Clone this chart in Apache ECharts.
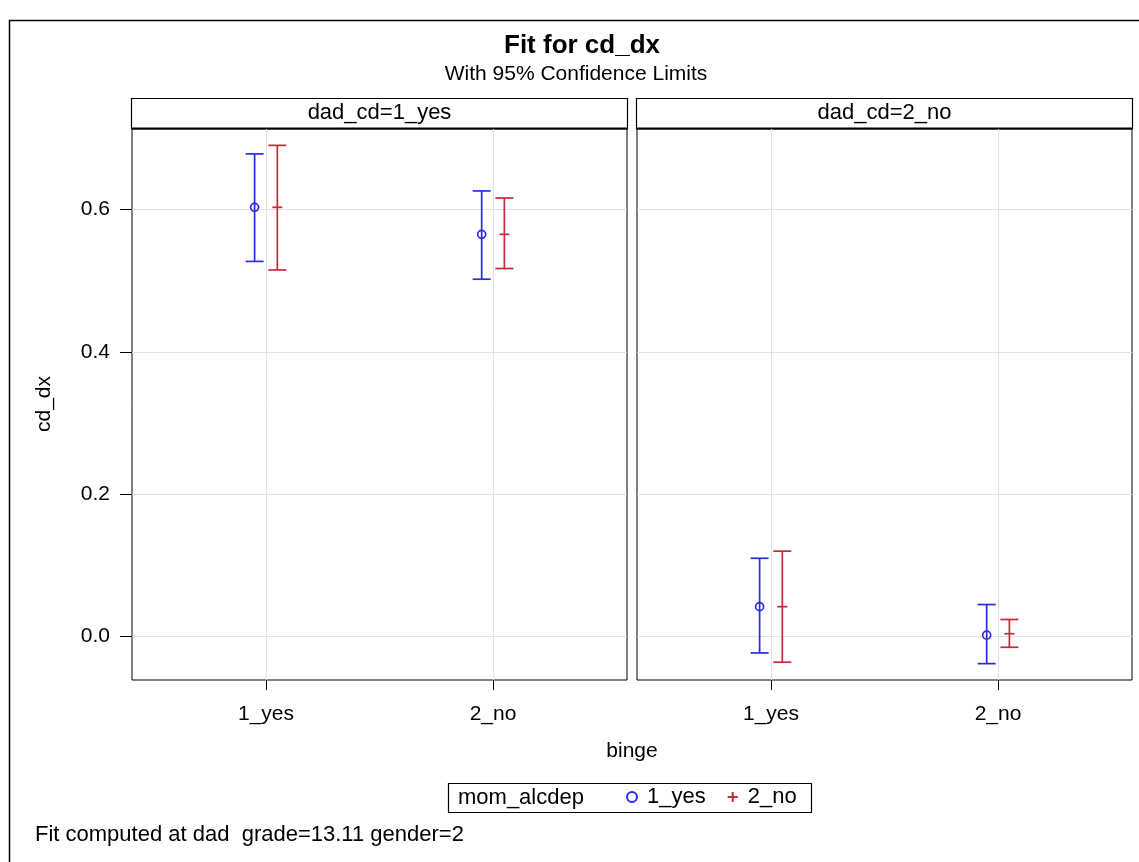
<!DOCTYPE html>
<html>
<head>
<meta charset="utf-8">
<title>Fit for cd_dx</title>
<script src="https://cdn.jsdelivr.net/npm/echarts@6/dist/echarts.min.js"></script>
<style>
  html, body { margin: 0; padding: 0; background: #fff; }
  #chart { width: 1139px; height: 862px; }
</style>
</head>
<body>
<div id="chart"></div>
<script>
// binge levels on the x axis of each panel
const categories = ['1_yes', '2_no'];
// panel headers (dad_cd levels)
const panels = ['dad_cd=1_yes', 'dad_cd=2_no'];
// mom_alcdep groups
const groups = ['1_yes', '2_no'];
const yTicks = [0, 0.2, 0.4, 0.6];

// fitted cd_dx with 95% limits, indexed [panel][binge]
const yesEst   = [[0.603, 0.565], [0.042, 0.002]];
const yesLower = [[0.527, 0.502], [-0.023, -0.038]];
const yesUpper = [[0.678, 0.626], [0.110, 0.045]];
const noEst    = [[0.603, 0.565], [0.042, 0.004]];
const noLower  = [[0.515, 0.517], [-0.036, -0.015]];
const noUpper  = [[0.690, 0.616], [0.120, 0.024]];

const FONT = 'Liberation Sans, Arial, sans-serif';
const BLUE = '#2b2be6';
const RED = '#c32a3a';
const GRIDLINE = '#e2e2e2';

const panelLeft = [132, 637];
const panelTop = 129;
const panelW = 495;
const panelH = 551;

const chart = echarts.init(document.getElementById('chart'), null, { renderer: 'canvas' });

const grids = panelLeft.map(l => ({
  left: l, top: panelTop, width: panelW, height: panelH,
  show: true, borderColor: '#000', borderWidth: 1, backgroundColor: '#fff'
}));

const xAxes = panelLeft.map((l, i) => ({
  type: 'value', gridIndex: i, min: 0.41, max: 2.59,
  axisLine: { show: false, onZero: false },
  axisTick: { show: true, customValues: [1, 2], length: 10, lineStyle: { color: '#000', width: 1 } },
  axisLabel: {
    customValues: [1, 2], margin: 24, color: '#000', fontSize: 21, fontFamily: FONT,
    formatter: v => categories[Math.round(v) - 1]
  },
  splitLine: { show: true, lineStyle: { color: GRIDLINE, width: 1 } }
}));

const yAxes = panelLeft.map((l, i) => ({
  type: 'value', gridIndex: i, min: -0.061, max: 0.713,
  axisLine: { show: false, onZero: false },
  axisTick: { show: i === 0, customValues: yTicks, length: 12, lineStyle: { color: '#000', width: 1 } },
  axisLabel: {
    show: i === 0, customValues: yTicks, margin: 22, color: '#000', fontSize: 21, fontFamily: FONT,
    formatter: v => v.toFixed(1)
  },
  splitLine: { show: true, lineStyle: { color: GRIDLINE, width: 1 } }
}));

function errorBarRenderer(offset, color, marker) {
  return function (params, api) {
    const x = api.value(0) + offset;
    const pE = api.coord([x, api.value(1)]);
    const pL = api.coord([x, api.value(2)]);
    const pU = api.coord([x, api.value(3)]);
    const st = { stroke: color, lineWidth: 1.7, fill: null };
    const cap = 9;
    const children = [
      { type: 'line', shape: { x1: pL[0], y1: pL[1], x2: pU[0], y2: pU[1] }, style: st },
      { type: 'line', shape: { x1: pU[0] - cap, y1: pU[1], x2: pU[0] + cap, y2: pU[1] }, style: st },
      { type: 'line', shape: { x1: pL[0] - cap, y1: pL[1], x2: pL[0] + cap, y2: pL[1] }, style: st }
    ];
    if (marker === 'circle') {
      children.push({ type: 'circle', shape: { cx: pE[0], cy: pE[1], r: 4 }, style: { stroke: color, lineWidth: 1.7, fill: null } });
    } else {
      children.push({ type: 'line', shape: { x1: pE[0] - 5, y1: pE[1], x2: pE[0] + 5, y2: pE[1] }, style: st });
    }
    return { type: 'group', children };
  };
}

const series = [];
panels.forEach((p, pi) => {
  const sets = [
    { name: groups[0], est: yesEst, lo: yesLower, hi: yesUpper, off: -0.05, color: BLUE, marker: 'circle' },
    { name: groups[1], est: noEst, lo: noLower, hi: noUpper, off: 0.05, color: RED, marker: 'plus' }
  ];
  sets.forEach(s => {
    series.push({
      type: 'custom', name: s.name, xAxisIndex: pi, yAxisIndex: pi,
      itemStyle: { color: s.color },
      silent: true,
      renderItem: errorBarRenderer(s.off, s.color, s.marker),
      data: categories.map((c, ci) => [ci + 1, s.est[pi][ci], s.lo[pi][ci], s.hi[pi][ci]])
    });
  });
});

const txt = (text, x, y, size, opts = {}) => Object.assign({
  type: 'text', x, y, silent: true,
  style: Object.assign({
    text, fill: '#000', font: (opts.bold ? 'bold ' : '') + size + 'px ' + FONT,
    align: opts.align || 'center', verticalAlign: 'middle'
  })
}, opts.rotation !== undefined ? { rotation: opts.rotation } : {});

const graphics = [
  // outer frame
  { type: 'rect', silent: true, shape: { x: 9.5, y: 20.5, width: 1400, height: 1400 }, style: { fill: null, stroke: '#000', lineWidth: 1.5 }, z: -1 },
  txt('Fit for cd_dx', 582, 46, 26, { bold: true }),
  txt('With 95% Confidence Limits', 576, 74, 21),
  txt('cd_dx', 44, 404, 21, { rotation: Math.PI / 2 }),
  txt('binge', 632, 751, 21),
  // legend frame and title
  { type: 'rect', silent: true, shape: { x: 448.5, y: 783.5, width: 363, height: 29 }, style: { fill: null, stroke: '#000', lineWidth: 1.2 } },
  txt('mom_alcdep', 458, 798, 22, { align: 'left' }),
  txt('Fit computed at dad  grade=13.11 gender=2', 35, 835, 22, { align: 'left' })
];

// panel header strips
panels.forEach((p, pi) => {
  const l = panelLeft[pi];
  graphics.push({ type: 'rect', silent: true, shape: { x: l - 0.5, y: 98.5, width: panelW + 1, height: 30 }, style: { fill: '#fff', stroke: '#000', lineWidth: 1.2 } });
  graphics.push({ type: 'line', silent: true, shape: { x1: l - 0.5, y1: 128.5, x2: l + panelW + 0.5, y2: 128.5 }, style: { stroke: '#000', lineWidth: 2.2 } });
  graphics.push(txt(p, l + panelW / 2, 113, 22));
});

chart.setOption({
  animation: false,
  backgroundColor: '#fff',
  grid: grids,
  xAxis: xAxes,
  yAxis: yAxes,
  legend: {
    left: 626, top: 786, padding: 0,
    itemWidth: 10, itemHeight: 10, itemGap: 22,
    selectedMode: false,
    textStyle: { color: '#000', fontSize: 22, fontFamily: FONT, padding: [0, 0, 0, 5] },
    data: [
      { name: groups[0], icon: 'emptyCircle' },
      { name: groups[1], icon: 'path://M4,0H6V4H10V6H6V10H4V6H0V4H4Z' }
    ]
  },
  graphic: graphics,
  series
});
</script>
</body>
</html>
